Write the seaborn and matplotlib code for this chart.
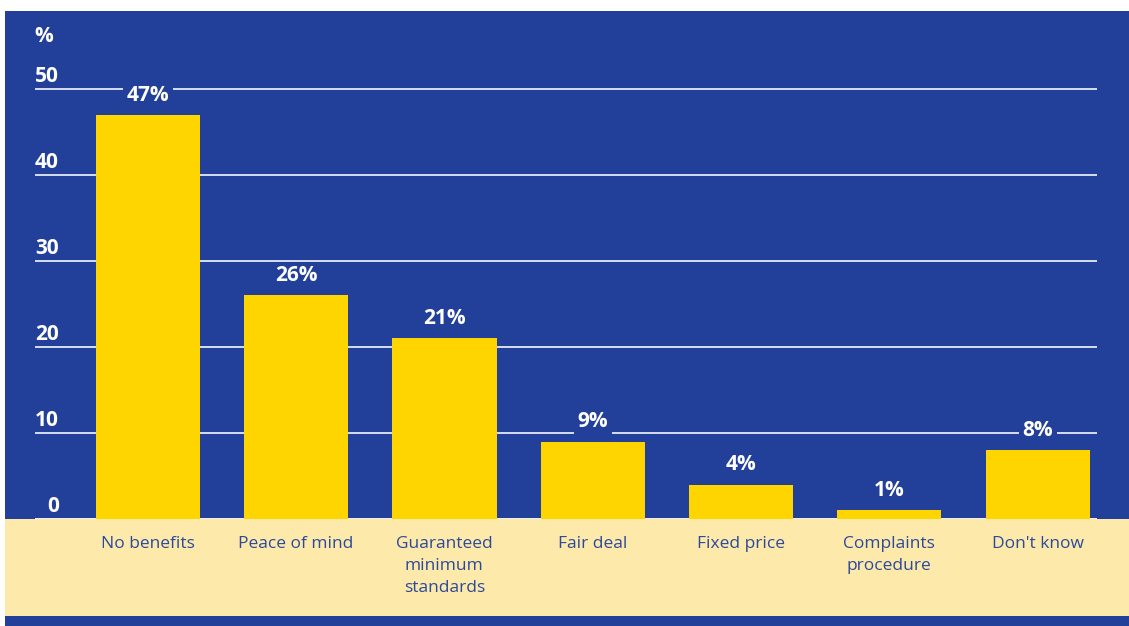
import matplotlib
matplotlib.use("Agg")
import matplotlib.pyplot as plt
from matplotlib.patches import Rectangle
import seaborn as sns
import pandas as pd

categories = ["No benefits", "Peace of mind", "Guaranteed\nminimum\nstandards",
              "Fair deal", "Fixed price", "Complaints\nprocedure", "Don't know"]
values = [47, 26, 21, 9, 4, 1, 8]
yticks = [0, 10, 20, 30, 40, 50]

BLUE = "#22409a"
YELLOW = "#ffd500"
PALE = "#fde9a9"
LABEL_BLUE = "#2c4a9c"

sns.set_theme(style="white")
plt.rcParams["font.family"] = ["Open Sans", "DejaVu Sans"]

W, H = 1129, 626
fig = plt.figure(figsize=(W / 100, H / 100), dpi=100)
fig.patch.set_facecolor("white")

def px(x0, y0, x1, y1):
    # pixel box (top-left origin) -> figure fraction rect
    return [x0 / W, 1 - y1 / H, (x1 - x0) / W, (y1 - y0) / H]

# Background panels on their own full-figure axes, beneath the chart
bg = fig.add_axes([0, 0, 1, 1], zorder=-1)
bg.set_xlim(0, W)
bg.set_ylim(H, 0)
bg.axis("off")
bg.add_patch(Rectangle((5, 11), W - 5, H - 11, facecolor=BLUE, edgecolor="none"))
bg.add_patch(Rectangle((5, 519), W - 5, 97, facecolor=PALE, edgecolor="none"))

# Plot area: y=0 at pixel 519, 8.6 px per unit
top_px = 11
ymax = (519 - top_px) / 8.6
ax = fig.add_axes(px(35, top_px, 1097, 519), zorder=1)
ax.patch.set_alpha(0)

df = pd.DataFrame({"category": categories, "value": values})
sns.barplot(data=df, x="category", y="value", color=YELLOW, saturation=1,
            width=0.703, linewidth=0, ax=ax, zorder=2)

ax.set_xlim(-0.76, 6.4)
ax.set_ylim(0, ymax)

for t in yticks:
    ax.axhline(t, color="#e6eaf4" if t else "white", lw=1.3, zorder=1)
    ax.text(-0.6, t + 0.8, str(t), ha="right", va="baseline", color="white",
            fontsize=15, fontweight="bold", clip_on=False)
ax.text(-0.64, 55.5, "%", ha="right", va="baseline", color="white",
        fontsize=15, fontweight="bold", clip_on=False)

for i, v in enumerate(values):
    ax.text(i, v + 1.65, f"{v}%", ha="center", va="baseline", color="white",
            fontsize=15, fontweight="bold", zorder=3,
            bbox=dict(facecolor=BLUE, edgecolor="none", pad=2.5))

for i, c in enumerate(categories):
    ax.text(i, -1.95, c, ha="center", va="top", color=LABEL_BLUE,
            fontsize=12.5, linespacing=1.5, clip_on=False)

ax.set_xticks([])
ax.set_yticks([])
ax.set_xlabel("")
ax.set_ylabel("")
for s in ax.spines.values():
    s.set_visible(False)

fig.savefig("out.png", dpi=100)
